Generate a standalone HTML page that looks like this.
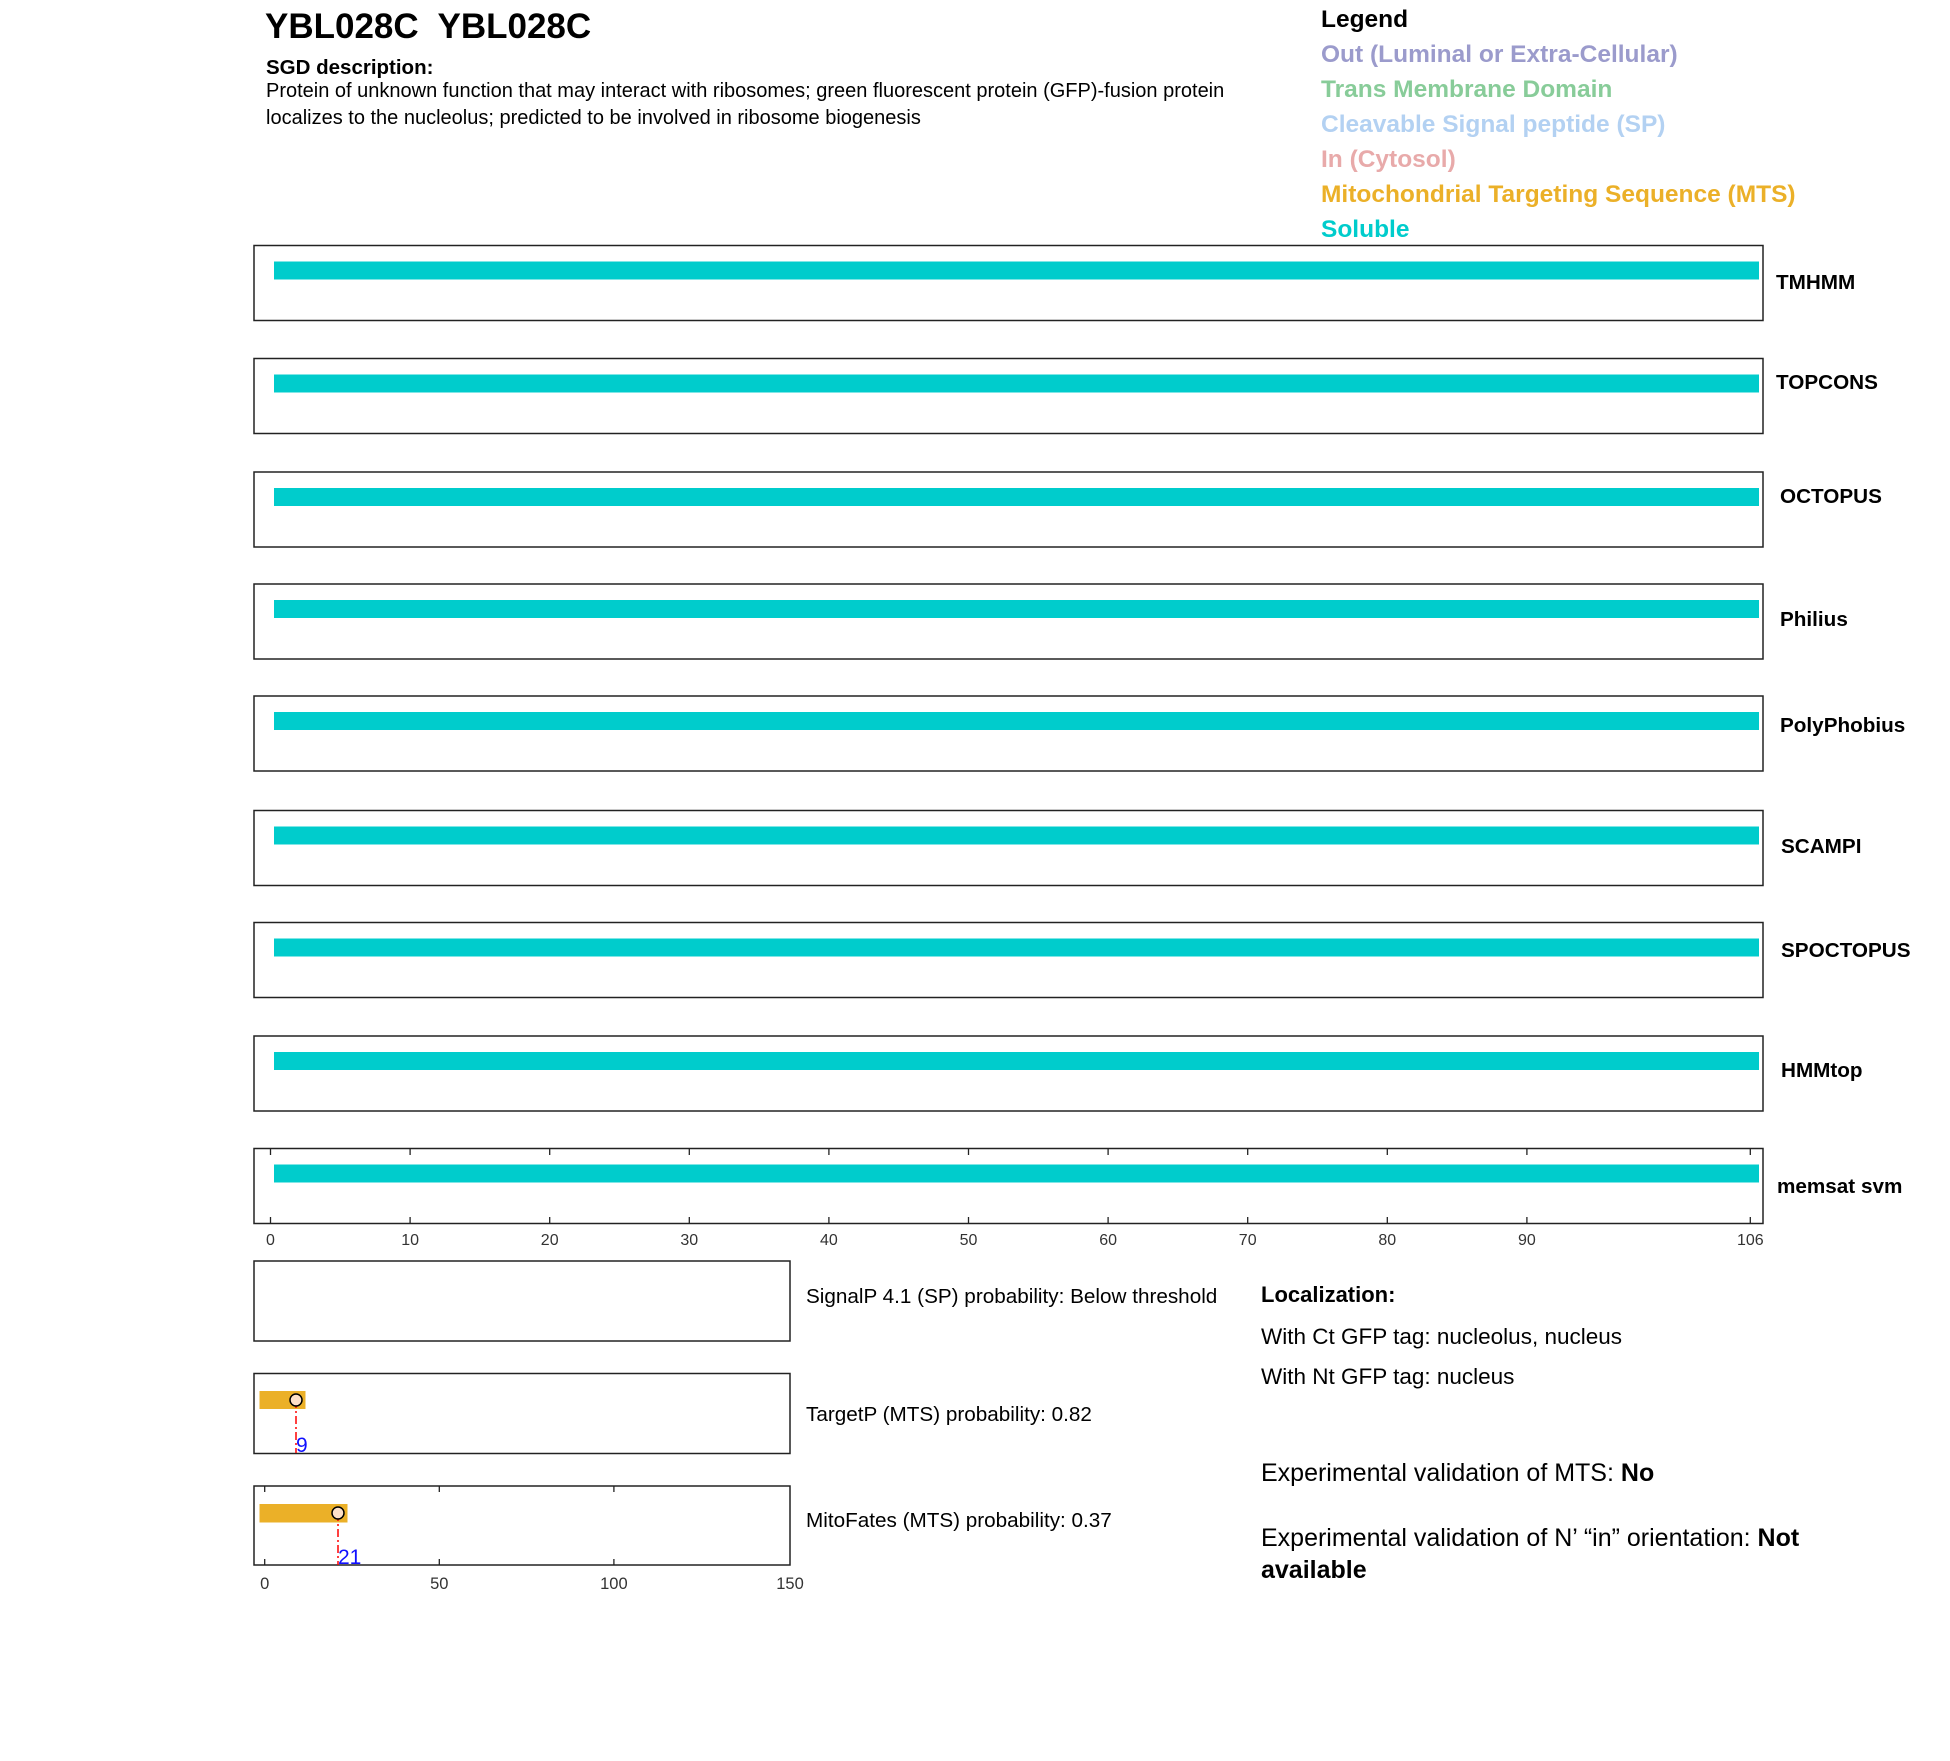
<!DOCTYPE html>
<html><head><meta charset="utf-8"><style>
html,body{margin:0;padding:0;background:#fff;}
svg{display:block;font-family:"Liberation Sans",Arial,sans-serif;}
</style></head><body>
<svg width="1950" height="1761" viewBox="0 0 1950 1761" xmlns="http://www.w3.org/2000/svg">
<rect width="1950" height="1761" fill="#fff"/>
<text x="265" y="38" font-size="35" font-weight="bold">YBL028C&#160; YBL028C</text>
<text x="266" y="74" font-size="20.5" font-weight="bold">SGD description:</text>
<text x="266" y="97" font-size="20">Protein of unknown function that may interact with ribosomes; green fluorescent protein (GFP)-fusion protein</text>
<text x="266" y="124" font-size="20">localizes to the nucleolus; predicted to be involved in ribosome biogenesis</text>
<g font-size="24.5" font-weight="bold">
<text x="1321" y="27">Legend</text>
<text x="1321" y="62" fill="#9b9bcc">Out (Luminal or Extra-Cellular)</text>
<text x="1321" y="97" fill="#88cc99">Trans Membrane Domain</text>
<text x="1321" y="132" fill="#b3d1f2">Cleavable Signal peptide (SP)</text>
<text x="1321" y="167" fill="#e8aaaa">In (Cytosol)</text>
<text x="1321" y="202" fill="#ebb028">Mitochondrial Targeting Sequence (MTS)</text>
<text x="1321" y="237" fill="#00cccc">Soluble</text>
</g>
<g fill="none" stroke="#222" stroke-width="1.5">
<rect x="254" y="245.5" width="1509" height="75"/>
<rect x="254" y="358.5" width="1509" height="75"/>
<rect x="254" y="472" width="1509" height="75"/>
<rect x="254" y="584" width="1509" height="75"/>
<rect x="254" y="696" width="1509" height="75"/>
<rect x="254" y="810.5" width="1509" height="75"/>
<rect x="254" y="922.5" width="1509" height="75"/>
<rect x="254" y="1036" width="1509" height="75"/>
<rect x="254" y="1148.5" width="1509" height="75"/>
</g>
<g fill="#00cccc">
<rect x="274" y="261.5" width="1485" height="18"/>
<rect x="274" y="374.5" width="1485" height="18"/>
<rect x="274" y="488" width="1485" height="18"/>
<rect x="274" y="600" width="1485" height="18"/>
<rect x="274" y="712" width="1485" height="18"/>
<rect x="274" y="826.5" width="1485" height="18"/>
<rect x="274" y="938.5" width="1485" height="18"/>
<rect x="274" y="1052" width="1485" height="18"/>
<rect x="274" y="1164.5" width="1485" height="18"/>
</g>
<g font-size="20.7" font-weight="bold">
<text x="1776" y="289">TMHMM</text>
<text x="1776" y="389">TOPCONS</text>
<text x="1780" y="503">OCTOPUS</text>
<text x="1780" y="626">Philius</text>
<text x="1780" y="732">PolyPhobius</text>
<text x="1781" y="853">SCAMPI</text>
<text x="1781" y="957">SPOCTOPUS</text>
<text x="1781" y="1077">HMMtop</text>
<text x="1777" y="1193">memsat svm</text>
</g>
<g stroke="#222" stroke-width="1.3">
<line x1="270.5" y1="1149" x2="270.5" y2="1155"/><line x1="270.5" y1="1223" x2="270.5" y2="1217"/>
<line x1="410.1" y1="1149" x2="410.1" y2="1155"/><line x1="410.1" y1="1223" x2="410.1" y2="1217"/>
<line x1="549.7" y1="1149" x2="549.7" y2="1155"/><line x1="549.7" y1="1223" x2="549.7" y2="1217"/>
<line x1="689.3" y1="1149" x2="689.3" y2="1155"/><line x1="689.3" y1="1223" x2="689.3" y2="1217"/>
<line x1="828.9" y1="1149" x2="828.9" y2="1155"/><line x1="828.9" y1="1223" x2="828.9" y2="1217"/>
<line x1="968.5" y1="1149" x2="968.5" y2="1155"/><line x1="968.5" y1="1223" x2="968.5" y2="1217"/>
<line x1="1108.1" y1="1149" x2="1108.1" y2="1155"/><line x1="1108.1" y1="1223" x2="1108.1" y2="1217"/>
<line x1="1247.7" y1="1149" x2="1247.7" y2="1155"/><line x1="1247.7" y1="1223" x2="1247.7" y2="1217"/>
<line x1="1387.3" y1="1149" x2="1387.3" y2="1155"/><line x1="1387.3" y1="1223" x2="1387.3" y2="1217"/>
<line x1="1526.9" y1="1149" x2="1526.9" y2="1155"/><line x1="1526.9" y1="1223" x2="1526.9" y2="1217"/>
<line x1="1750.3" y1="1149" x2="1750.3" y2="1155"/><line x1="1750.3" y1="1223" x2="1750.3" y2="1217"/>
</g>
<g font-size="16" fill="#333" text-anchor="middle">
<text x="270.5" y="1245">0</text><text x="410.1" y="1245">10</text><text x="549.7" y="1245">20</text>
<text x="689.3" y="1245">30</text><text x="828.9" y="1245">40</text><text x="968.5" y="1245">50</text>
<text x="1108.1" y="1245">60</text><text x="1247.7" y="1245">70</text><text x="1387.3" y="1245">80</text>
<text x="1526.9" y="1245">90</text><text x="1750.3" y="1245">106</text>
</g>
<g fill="none" stroke="#222" stroke-width="1.5">
<rect x="254" y="1261" width="536" height="80"/>
<rect x="254" y="1373.5" width="536" height="80"/>
<rect x="254" y="1486" width="536" height="79"/>
</g>
<rect x="259.5" y="1391" width="46" height="18" fill="#ebb028"/>
<line x1="296" y1="1400" x2="296" y2="1453" stroke="#f00" stroke-width="1.5" stroke-dasharray="8,3,2,3"/>
<circle cx="296" cy="1400" r="6" fill="#fde0c8" stroke="#000" stroke-width="1.5"/>
<text x="296" y="1452" font-size="21" fill="#1010ff">9</text>
<rect x="259.5" y="1504" width="88" height="18.5" fill="#ebb028"/>
<line x1="338" y1="1513" x2="338" y2="1565" stroke="#f00" stroke-width="1.5" stroke-dasharray="8,3,2,3"/>
<circle cx="338" cy="1513" r="6" fill="#fde0c8" stroke="#000" stroke-width="1.5"/>
<text x="338" y="1564" font-size="21" fill="#1010ff">21</text>
<g stroke="#222" stroke-width="1.3">
<line x1="264.7" y1="1486" x2="264.7" y2="1492"/><line x1="264.7" y1="1565" x2="264.7" y2="1559"/>
<line x1="439.3" y1="1486" x2="439.3" y2="1492"/><line x1="439.3" y1="1565" x2="439.3" y2="1559"/>
<line x1="613.9" y1="1486" x2="613.9" y2="1492"/><line x1="613.9" y1="1565" x2="613.9" y2="1559"/>
</g>
<g font-size="16.5" fill="#333" text-anchor="middle">
<text x="264.7" y="1589">0</text><text x="439.3" y="1589">50</text><text x="613.9" y="1589">100</text><text x="790" y="1589">150</text>
</g>
<g font-size="20.7">
<text x="806" y="1303">SignalP 4.1 (SP) probability: Below threshold</text>
<text x="806" y="1421">TargetP (MTS) probability: 0.82</text>
<text x="806" y="1527">MitoFates (MTS) probability: 0.37</text>
</g>
<text x="1261" y="1302" font-size="22" font-weight="bold">Localization:</text>
<text x="1261" y="1344" font-size="22.5">With Ct GFP tag: nucleolus, nucleus</text>
<text x="1261" y="1384" font-size="22.5">With Nt GFP tag: nucleus</text>
<text x="1261" y="1481" font-size="25">Experimental validation of MTS: <tspan font-weight="bold">No</tspan></text>
<text x="1261" y="1546" font-size="25">Experimental validation of N’ “in” orientation: <tspan font-weight="bold">Not</tspan></text>
<text x="1261" y="1578" font-size="25" font-weight="bold">available</text>
</svg>
</body></html>
